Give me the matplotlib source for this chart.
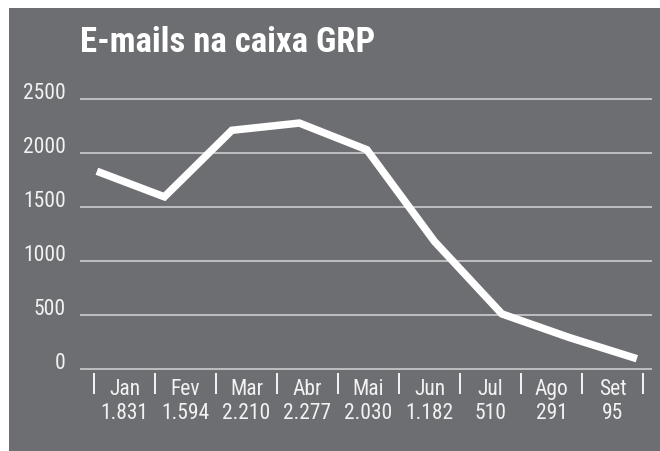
import numpy as np
import matplotlib.pyplot as plt
import matplotlib.transforms as mtransforms
from matplotlib.patches import Rectangle

months = ["Jan", "Fev", "Mar", "Abr", "Mai", "Jun", "Jul", "Ago", "Set"]
emails = [1831, 1594, 2210, 2277, 2030, 1182, 510, 291, 95]
yticks = [0, 500, 1000, 1500, 2000, 2500]

bg = "#6d6e72"
plt.rcParams['font.family'] = ['Roboto Condensed', 'DejaVu Sans']

fig = plt.figure(figsize=(6.6, 4.51), dpi=100, facecolor="white")
fig.patches.append(Rectangle((9 / 660, 0), 1, (451 - 8) / 451, transform=fig.transFigure,
                             facecolor=bg, edgecolor="none", zorder=-10))

ax = fig.add_axes([80 / 660, 0.1723, 572 / 660, 0.6178])
ax.set_facecolor("none")
for s in ax.spines.values():
    s.set_visible(False)

# gridlines
for v in yticks:
    ax.axhline(v, color="#d4d4d6", lw=1.1, zorder=1)

x = np.arange(len(emails))
ax.plot(x, emails, color="white", lw=5.4, solid_joinstyle="miter", solid_capstyle="butt", zorder=3)
ax.set_xlim(-0.25, 8.224)
ax.set_ylim(-40, 2540)
ax.set_xticks([])
ax.set_yticks([])

# y labels slightly above gridlines
off = mtransforms.ScaledTranslation(0, 4 / 72, fig.dpi_scale_trans)
ytrans = mtransforms.blended_transform_factory(ax.transAxes, ax.transData) + off
for v in yticks:
    ax.text(-0.025, v, str(v), transform=ytrans, ha="right", va="center",
            color="#f2f2f2", fontsize=15.5)

# category axis
ax2 = ax.twiny()
ax2.set_facecolor("none")
for s in ax2.spines.values():
    s.set_visible(False)
ax2.set_xlim(-0.7295, 8.648)
ax2.xaxis.set_ticks_position("bottom")
ax2.xaxis.set_label_position("bottom")
ax2.set_xticks(np.arange(len(months) + 1) - 0.5)
ax2.set_xticklabels([])
ax2.tick_params(axis="x", which="major", direction="out", length=15, width=1.3, colors="white")
labels = [f"{m}\n{v:,}".replace(",", ".") for m, v in zip(months, emails)]
ax2.set_xticks(np.arange(len(months)), minor=True)
ax2.set_xticklabels(labels, minor=True, color="#f2f2f2", fontsize=15.5, linespacing=1.2)
ax2.tick_params(axis="x", which="minor", length=0, pad=4)

fig.text(80 / 660, (451 - 43) / 451, "E-mails na caixa GRP", color="white",
         fontsize=25, fontweight="bold", ha="left", va="center")

fig.savefig("out.png", dpi=100, facecolor="white")
